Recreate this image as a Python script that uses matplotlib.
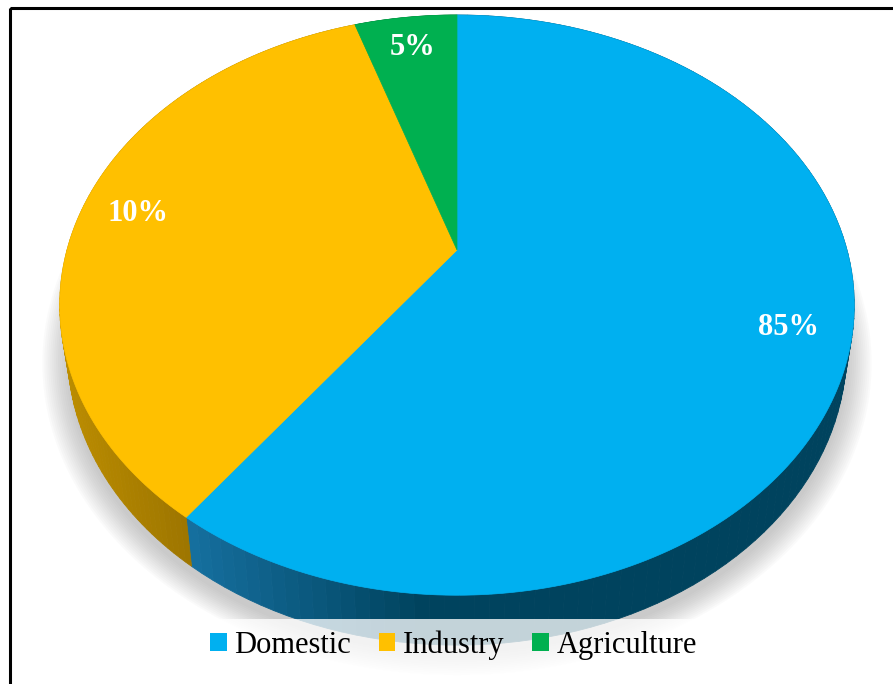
import numpy as np
import matplotlib
matplotlib.use("Agg")
import matplotlib.pyplot as plt
from matplotlib.patches import Polygon, Rectangle, Patch
from matplotlib.colors import to_rgb
from matplotlib.font_manager import FontProperties

# slice shares as drawn (clockwise from 12 o'clock) and the printed labels
categories = ["Domestic", "Industry", "Agriculture"]
slice_shares = [60, 35, 5]
label_text = ["85%", "10%", "5%"]
top_colors = ["#00b0f0", "#ffc000", "#00b050"]
wall_light = ["#1670a0", "#bc8d00", "#008a3c"]
wall_dark = ["#00435e", "#9a7300", "#006a2c"]

# projection of the tilted pie (pixel space, y down)
CX, CY, R, K, P = 457, 250, 390, 0.717, 0.19
DEPTH, SHRINK = 46, 0.98

label_font = FontProperties(family="Liberation Serif", weight="bold", size=22)
legend_font = FontProperties(family="Liberation Serif", size=22)


def project(theta, r=1.0, bottom=False, scale=1.0):
    t = np.radians(theta)
    x = r * np.sin(t)
    y = r * np.cos(t)
    f = 1.0 / (1.0 + P * y)
    s = (SHRINK if bottom else 1.0) * scale
    sx = CX + R * x * f * s
    sy = CY - R * K * y * f * s + (DEPTH * f if bottom else 0.0)
    return sx, sy


def lerp(c1, c2, t):
    a, b = np.array(to_rgb(c1)), np.array(to_rgb(c2))
    return tuple(a + (b - a) * t)


fig = plt.figure(figsize=(8.93, 6.84), dpi=100)
ax = fig.add_axes([0, 0, 1, 1])
ax.set_xlim(0, 893)
ax.set_ylim(684, 0)
ax.axis("off")

# soft shadow under the lower rim
full = np.linspace(0, 360, 361)
for i in range(14):
    sc = 1.0 + 0.005 * i
    sx, sy = project(full, bottom=True, scale=sc)
    ax.add_patch(Polygon(np.column_stack([sx, sy + 8]), closed=True,
                         facecolor="#7a7a7a", edgecolor="none",
                         alpha=0.03, zorder=1))

# side walls
bounds = np.concatenate([[0], np.cumsum(slice_shares)]) / sum(slice_shares) * 360
for i in range(len(slice_shares)):
    angs = np.linspace(bounds[i], bounds[i + 1], 120)
    tx, ty = project(angs)
    bx, by = project(angs, bottom=True)
    for j in range(len(angs) - 1):
        mid = 0.5 * (tx[j] + tx[j + 1])
        if i == 0:
            t = np.clip((mid - 185) / 235.0, 0, 1)
        else:
            t = np.clip((mid - 60) / 140.0, 0, 1)
        col = lerp(wall_light[i], wall_dark[i], t)
        quad = [(tx[j], ty[j]), (tx[j + 1], ty[j + 1]),
                (bx[j + 1], by[j + 1]), (bx[j], by[j])]
        ax.add_patch(Polygon(quad, closed=True, facecolor=col,
                             edgecolor=col, lw=0.6, zorder=2))

# top faces
for i in range(len(slice_shares)):
    angs = np.linspace(bounds[i], bounds[i + 1], 200)
    tx, ty = project(angs)
    pts = np.vstack([[CX, CY], np.column_stack([tx, ty])])
    ax.add_patch(Polygon(pts, closed=True, facecolor=top_colors[i],
                         edgecolor=top_colors[i], lw=0.5, zorder=3))

# data labels
for i, txt in enumerate(label_text):
    mid = 0.5 * (bounds[i] + bounds[i + 1])
    lx, ly = project(mid, r=0.85)
    ax.text(lx, ly, txt, ha="center", va="center", color="white",
            fontproperties=label_font, zorder=4)

# legend band (semi-transparent white) and legend
ax.add_patch(Rectangle((0, 619), 893, 70, facecolor="white", alpha=0.77,
                       edgecolor="none", zorder=5))
handles = [Patch(facecolor=c, edgecolor="none") for c in top_colors]
leg = ax.legend(handles, categories, loc="center",
                bbox_to_anchor=(453.5 / 893, 1 - 645 / 684), ncol=3,
                frameon=False, handlelength=0.55, handleheight=0.55,
                handletextpad=0.25, columnspacing=0.9, prop=legend_font)
leg.set_zorder(6)

# outer frame (right and bottom edges fall outside the image)
ax.add_patch(Rectangle((9.5, 7.5), 900, 700, fill=False, edgecolor="black",
                       lw=2.2, zorder=10))

fig.savefig("out.png", dpi=100)
